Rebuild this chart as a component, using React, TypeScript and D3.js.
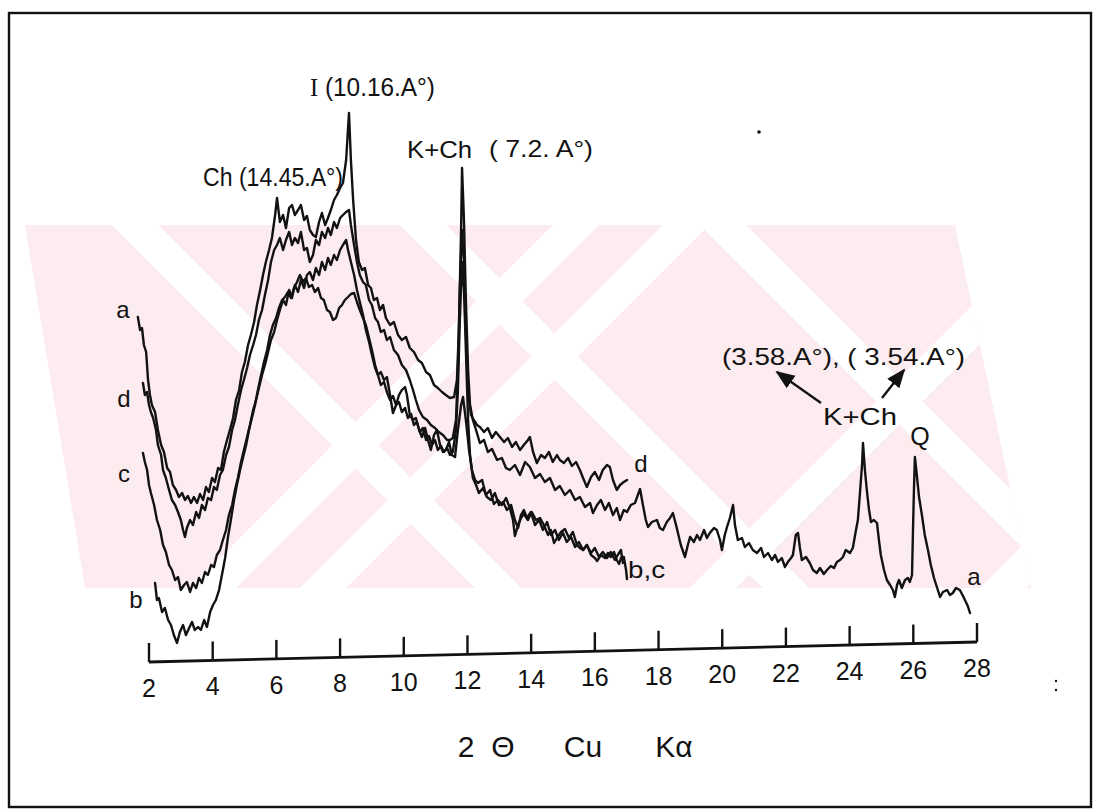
import React from "react";
import * as d3 from "d3";

type Pt = [number, number];

// 2θ tick values of the x axis
const xTicks: number[] = [2, 4, 6, 8, 10, 12, 14, 16, 18, 20, 22, 24, 26, 28];

// Curve a (untreated) : [2θ, intensity]
const curveA: Pt[] = [
  [1.65, 345], [1.72, 332], [1.78, 334], [1.84, 317], [1.91, 310], [1.97, 282], [2.03, 267], [2.09, 257],
  [2.19, 250], [2.28, 232], [2.38, 217], [2.47, 210], [2.57, 194], [2.66, 190], [2.75, 177], [2.85, 172],
  [2.94, 165], [3.04, 169], [3.13, 162], [3.22, 166], [3.32, 159], [3.41, 165], [3.51, 159], [3.6, 168],
  [3.7, 162], [3.79, 175], [3.88, 170], [3.98, 184], [4.07, 180], [4.17, 194], [4.26, 192], [4.35, 210],
  [4.45, 222], [4.54, 232], [4.64, 244], [4.73, 262], [4.83, 272], [4.92, 290], [5.01, 300], [5.11, 317],
  [5.2, 327], [5.3, 340], [5.39, 357], [5.49, 372], [5.58, 387], [5.67, 400], [5.77, 412], [5.86, 424],
  [5.96, 447], [6.02, 464], [6.11, 440], [6.21, 447], [6.3, 434], [6.4, 454], [6.49, 457], [6.58, 447],
  [6.68, 452], [6.77, 457], [6.87, 442], [6.96, 446], [7.05, 432], [7.15, 427], [7.24, 425], [7.34, 440],
  [7.43, 449], [7.53, 437], [7.62, 444], [7.71, 452], [7.81, 462], [7.9, 467], [8.0, 474], [8.09, 479],
  [8.19, 502], [8.28, 549], [8.34, 502], [8.41, 462], [8.5, 422], [8.59, 400], [8.69, 392], [8.78, 394],
  [8.88, 377], [8.97, 374], [9.06, 362], [9.16, 364], [9.25, 352], [9.35, 357], [9.44, 344], [9.57, 337],
  [9.69, 340], [9.82, 327], [9.94, 322], [10.07, 325], [10.19, 314], [10.32, 310], [10.45, 302], [10.57, 299],
  [10.7, 290], [10.82, 287], [10.95, 277], [11.07, 274], [11.2, 270], [11.32, 267], [11.45, 264], [11.58, 265],
  [11.67, 282], [11.73, 332], [11.8, 432], [11.83, 494], [11.89, 442], [11.95, 362], [12.02, 292], [12.08, 257],
  [12.17, 242], [12.27, 232], [12.39, 219], [12.52, 222], [12.64, 210], [12.77, 213], [12.93, 202], [13.08, 204],
  [13.21, 194], [13.33, 192], [13.49, 197], [13.65, 187], [13.81, 200], [13.96, 195], [14.12, 184], [14.28, 188],
  [14.43, 180], [14.59, 184], [14.75, 172], [14.9, 176], [15.06, 167], [15.22, 172], [15.38, 162], [15.53, 165],
  [15.69, 155], [15.85, 159], [15.94, 149], [16.07, 157], [16.19, 162], [16.32, 152], [16.44, 159], [16.57, 147],
  [16.69, 154], [16.79, 142], [16.91, 152], [17.01, 150], [17.13, 157], [17.26, 159], [17.35, 167], [17.42, 173],
  [17.51, 157], [17.6, 142], [17.67, 135], [17.79, 140], [17.95, 142], [18.04, 134], [18.14, 132], [18.26, 140],
  [18.36, 144], [18.45, 149], [18.55, 137], [18.61, 129], [18.7, 117], [18.83, 105], [18.92, 117], [18.99, 125],
  [19.11, 120], [19.21, 127], [19.3, 122], [19.43, 132], [19.52, 124], [19.61, 129], [19.74, 134], [19.83, 132],
  [19.93, 122], [19.99, 112], [20.08, 127], [20.15, 135], [20.24, 144], [20.34, 157], [20.4, 137], [20.49, 122],
  [20.62, 124], [20.71, 115], [20.84, 119], [20.96, 112], [21.09, 109], [21.22, 114], [21.31, 105], [21.44, 109],
  [21.56, 102], [21.66, 107], [21.75, 100], [21.87, 104], [21.97, 95], [22.06, 100], [22.16, 104], [22.22, 107],
  [22.31, 127], [22.38, 129], [22.44, 114], [22.5, 102], [22.63, 105], [22.75, 99], [22.85, 92], [22.97, 89],
  [23.07, 94], [23.19, 88], [23.29, 92], [23.41, 96], [23.51, 94], [23.6, 100], [23.7, 102], [23.79, 105],
  [23.88, 112], [24.01, 109], [24.1, 114], [24.2, 132], [24.26, 142], [24.32, 167], [24.39, 197], [24.42, 219],
  [24.48, 192], [24.54, 172], [24.61, 152], [24.67, 140], [24.76, 142], [24.86, 139], [24.92, 122], [24.98, 107],
  [25.08, 92], [25.17, 82], [25.27, 77], [25.36, 72], [25.42, 65], [25.49, 77], [25.55, 82], [25.64, 74],
  [25.74, 82], [25.83, 84], [25.89, 80], [25.96, 87], [25.99, 132], [26.02, 172], [26.05, 205], [26.11, 187],
  [26.18, 165], [26.27, 147], [26.36, 127], [26.46, 112], [26.55, 97], [26.65, 84], [26.74, 75], [26.84, 65],
  [26.93, 70], [27.06, 72], [27.15, 67], [27.24, 69], [27.34, 74], [27.46, 72], [27.56, 66], [27.62, 62],
  [27.71, 56], [27.78, 49],
];

// Curve b
const curveB: Pt[] = [
  [2.19, 79], [2.25, 62], [2.31, 64], [2.41, 50], [2.5, 54], [2.6, 42], [2.69, 37], [2.78, 27],
  [2.88, 19], [2.97, 30], [3.07, 37], [3.16, 27], [3.26, 34], [3.35, 40], [3.44, 32], [3.54, 35],
  [3.63, 32], [3.73, 42], [3.82, 35], [3.92, 50], [4.01, 57], [4.1, 62], [4.2, 72], [4.29, 87],
  [4.39, 104], [4.48, 125], [4.57, 142], [4.67, 162], [4.76, 177], [4.86, 192], [4.95, 204], [5.05, 217],
  [5.14, 232], [5.23, 244], [5.33, 257], [5.42, 272], [5.52, 287], [5.61, 300], [5.71, 312], [5.8, 327],
  [5.89, 337], [5.99, 344], [6.08, 354], [6.18, 362], [6.27, 365], [6.36, 370], [6.46, 364], [6.55, 374],
  [6.65, 380], [6.74, 387], [6.84, 380], [6.93, 384], [7.02, 375], [7.12, 377], [7.21, 370], [7.31, 374],
  [7.4, 364], [7.49, 362], [7.59, 352], [7.68, 350], [7.78, 342], [7.87, 344], [7.97, 354], [8.06, 357],
  [8.15, 362], [8.25, 365], [8.34, 368], [8.44, 369], [8.53, 360], [8.62, 352], [8.72, 344], [8.81, 337],
  [8.91, 324], [9.0, 312], [9.1, 297], [9.19, 287], [9.28, 290], [9.38, 282], [9.47, 285], [9.57, 267],
  [9.66, 249], [9.76, 257], [9.85, 267], [9.94, 272], [10.04, 275], [10.1, 267], [10.19, 247], [10.29, 242],
  [10.38, 244], [10.48, 232], [10.57, 225], [10.67, 234], [10.76, 222], [10.85, 212], [10.95, 227], [11.04, 232],
  [11.14, 217], [11.23, 210], [11.32, 212], [11.42, 220], [11.51, 207], [11.61, 205], [11.7, 232], [11.8, 257],
  [11.86, 265], [11.95, 242], [12.05, 212], [12.14, 192], [12.24, 182], [12.33, 179], [12.46, 182], [12.58, 167],
  [12.71, 172], [12.83, 158], [12.96, 162], [13.08, 157], [13.21, 164], [13.33, 154], [13.43, 142], [13.49, 126],
  [13.59, 137], [13.68, 144], [13.77, 148], [13.9, 142], [14.02, 150], [14.15, 142], [14.28, 144], [14.4, 137],
  [14.53, 127], [14.62, 132], [14.72, 119], [14.81, 124], [14.94, 130], [15.06, 133], [15.19, 124], [15.31, 130],
  [15.44, 117], [15.53, 114], [15.63, 112], [15.75, 117], [15.88, 107], [16.0, 104], [16.07, 101], [16.19, 107],
  [16.32, 104], [16.41, 109], [16.5, 105], [16.6, 110], [16.69, 102], [16.76, 98], [16.82, 104], [16.91, 105],
  [16.98, 92], [17.01, 83],
];

// Curve c
const curveC: Pt[] = [
  [1.81, 209], [1.87, 200], [1.94, 192], [2.0, 177], [2.06, 169], [2.16, 157], [2.25, 142], [2.35, 132],
  [2.44, 117], [2.53, 110], [2.63, 97], [2.72, 92], [2.82, 82], [2.91, 85], [3.0, 72], [3.1, 77],
  [3.19, 80], [3.29, 70], [3.38, 79], [3.48, 74], [3.57, 84], [3.66, 79], [3.76, 90], [3.85, 87],
  [3.95, 97], [4.04, 95], [4.13, 107], [4.23, 112], [4.32, 122], [4.42, 132], [4.51, 147], [4.61, 157],
  [4.7, 172], [4.79, 184], [4.89, 200], [4.98, 212], [5.08, 225], [5.17, 237], [5.27, 252], [5.36, 262],
  [5.45, 274], [5.55, 287], [5.64, 297], [5.74, 310], [5.83, 322], [5.93, 330], [6.02, 342], [6.11, 352],
  [6.21, 362], [6.3, 357], [6.4, 372], [6.49, 364], [6.58, 377], [6.68, 370], [6.77, 382], [6.87, 374],
  [6.96, 387], [7.05, 390], [7.15, 382], [7.24, 394], [7.34, 387], [7.43, 400], [7.53, 392], [7.62, 404],
  [7.71, 397], [7.81, 407], [7.9, 402], [8.0, 412], [8.09, 417], [8.19, 422], [8.25, 412], [8.34, 400],
  [8.44, 387], [8.53, 372], [8.62, 360], [8.72, 347], [8.81, 332], [8.91, 320], [9.0, 307], [9.1, 294],
  [9.19, 287], [9.28, 277], [9.38, 280], [9.47, 270], [9.57, 262], [9.66, 266], [9.76, 257], [9.85, 260],
  [9.94, 250], [10.04, 254], [10.13, 244], [10.23, 248], [10.32, 237], [10.41, 240], [10.51, 230], [10.6, 234],
  [10.7, 222], [10.79, 226], [10.89, 217], [10.98, 222], [11.07, 212], [11.17, 216], [11.26, 210], [11.36, 214],
  [11.45, 207], [11.54, 210], [11.64, 232], [11.7, 272], [11.76, 342], [11.83, 400], [11.89, 372], [11.95, 312],
  [12.02, 242], [12.08, 207], [12.17, 184], [12.27, 177], [12.36, 169], [12.49, 174], [12.61, 165], [12.74, 162],
  [12.86, 169], [12.99, 157], [13.12, 160], [13.24, 152], [13.37, 157], [13.49, 142], [13.59, 134], [13.68, 147],
  [13.77, 152], [13.87, 144], [13.99, 150], [14.12, 137], [14.25, 142], [14.37, 132], [14.5, 140], [14.62, 127],
  [14.75, 132], [14.87, 122], [15.0, 129], [15.12, 120], [15.25, 125], [15.38, 115], [15.5, 120], [15.63, 112],
  [15.75, 117], [15.88, 109], [16.0, 114], [16.13, 105], [16.25, 110], [16.38, 104], [16.5, 110], [16.63, 102],
  [16.72, 107], [16.82, 112], [16.88, 99],
];

// Curve d
const curveD: Pt[] = [
  [1.81, 279], [1.87, 267], [1.94, 270], [2.0, 257], [2.06, 250], [2.13, 244], [2.22, 232], [2.28, 217],
  [2.38, 207], [2.44, 192], [2.53, 184], [2.63, 172], [2.72, 162], [2.82, 157], [2.91, 150], [3.0, 142],
  [3.07, 132], [3.13, 125], [3.19, 134], [3.29, 142], [3.38, 137], [3.48, 150], [3.57, 144], [3.66, 157],
  [3.76, 152], [3.85, 164], [3.95, 162], [4.04, 175], [4.13, 172], [4.23, 187], [4.32, 192], [4.42, 207],
  [4.51, 215], [4.61, 232], [4.7, 242], [4.79, 257], [4.89, 272], [4.98, 282], [5.08, 294], [5.17, 307],
  [5.27, 317], [5.36, 327], [5.45, 342], [5.55, 352], [5.64, 367], [5.74, 382], [5.83, 400], [5.93, 412],
  [6.02, 417], [6.11, 424], [6.21, 412], [6.3, 422], [6.4, 430], [6.49, 417], [6.58, 424], [6.68, 419],
  [6.77, 430], [6.87, 412], [6.96, 414], [7.05, 400], [7.15, 407], [7.24, 422], [7.34, 417], [7.43, 430],
  [7.53, 424], [7.62, 434], [7.71, 427], [7.81, 440], [7.9, 434], [8.0, 444], [8.09, 447], [8.19, 450],
  [8.28, 452], [8.34, 437], [8.44, 417], [8.53, 400], [8.62, 387], [8.72, 380], [8.81, 377], [8.91, 362],
  [9.0, 357], [9.1, 344], [9.19, 340], [9.28, 330], [9.38, 332], [9.47, 322], [9.57, 325], [9.69, 312],
  [9.82, 307], [9.94, 297], [10.07, 292], [10.19, 282], [10.29, 272], [10.38, 262], [10.48, 252], [10.6, 245],
  [10.73, 242], [10.85, 237], [10.98, 234], [11.1, 230], [11.23, 227], [11.36, 222], [11.45, 222], [11.54, 224],
  [11.64, 242], [11.7, 292], [11.76, 372], [11.83, 432], [11.89, 402], [11.95, 332], [12.02, 272], [12.11, 247],
  [12.2, 242], [12.3, 237], [12.39, 235], [12.52, 230], [12.64, 234], [12.77, 224], [12.89, 230], [13.02, 225],
  [13.15, 220], [13.27, 224], [13.4, 215], [13.52, 220], [13.65, 212], [13.77, 217], [13.9, 222], [13.96, 225],
  [14.06, 210], [14.18, 199], [14.31, 207], [14.43, 204], [14.56, 210], [14.68, 200], [14.81, 207], [14.9, 202],
  [15.03, 199], [15.16, 204], [15.28, 196], [15.41, 200], [15.53, 192], [15.63, 184], [15.75, 175], [15.88, 185],
  [16.0, 190], [16.13, 182], [16.25, 192], [16.38, 197], [16.47, 195], [16.57, 182], [16.69, 172], [16.79, 177],
  [16.91, 180], [17.01, 182],
];

// faint background watermark stripes (x where each stripe meets the band top / bottom)
const wmBackslash: number[] = [112, 400, 700];
const wmSlash: number[] = [190, 300, 690, 980];

const AXIS_TILT = 20 / 828;
const INK = "#121212";
const SANS = "'Liberation Sans', Arial, sans-serif";

export default function App() {
  const x = d3.scaleLinear().domain([2, 28]).range([149, 977]);
  const y = d3.scaleLinear().domain([0, 560]).range([662, 102]);
  const line = d3
    .line<Pt>()
    .x((d) => x(d[0]))
    .y((d) => y(d[1]))
    .curve(d3.curveLinear);
  const base = (px: number) => y(0) - (px - x(2)) * AXIS_TILT;

  const x0 = x(2);
  const x1 = x(28);

  const wTop = 225;
  const wBot = 588;
  const bandH = wBot - wTop;
  const sw = 46;

  const curves = [curveA, curveB, curveC, curveD];

  return (
    <svg
      width={1100}
      height={812}
      viewBox="0 0 1100 812"
      style={{ position: "absolute", left: 0, top: 0, background: "#fff" }}
    >
      <defs>
        <clipPath id="wm">
          <polygon points={`25,${wTop} 955,${wTop} 1031,${wBot} 85,${wBot}`} />
        </clipPath>
        <marker id="arr" viewBox="0 0 10 10" refX="9" refY="5" markerWidth="8" markerHeight="8" orient="auto">
          <path d="M0,1 L10,5 L0,9 z" fill={INK} />
        </marker>
      </defs>
      <rect x={0} y={0} width={1100} height={812} fill="#fff" />

      {/* watermark */}
      <g clipPath="url(#wm)">
        <rect x={0} y={wTop} width={1100} height={bandH} fill="#fdecef" />
        {wmBackslash.map((t, i) => (
          <polygon
            key={"b" + i}
            points={`${t},${wTop} ${t + sw},${wTop} ${t + sw + bandH},${wBot} ${t + bandH},${wBot}`}
            fill="#fff"
          />
        ))}
        {wmSlash.map((t, i) => (
          <polygon
            key={"s" + i}
            points={`${t},${wBot} ${t + sw},${wBot} ${t + sw + bandH},${wTop} ${t + bandH},${wTop}`}
            fill="#fff"
          />
        ))}
      </g>

      {/* frame */}
      <rect x={9} y={13} width={1082} height={794} fill="none" stroke={INK} strokeWidth={2.4} />

      {/* curves */}
      {curves.map((c, i) => (
        <path
          key={i}
          d={line(c) || ""}
          fill="none"
          stroke={INK}
          strokeWidth={2.4}
          strokeLinejoin="round"
          strokeLinecap="round"
        />
      ))}

      {/* axis */}
      <line x1={x0} y1={base(x0)} x2={x1} y2={base(x1)} stroke={INK} strokeWidth={2.8} />
      {xTicks.map((t) => {
        const px = x(t);
        const b = base(px);
        return (
          <g key={t}>
            <line x1={px} y1={b} x2={px} y2={b - 19} stroke={INK} strokeWidth={2.4} />
            <text x={px} y={b + 35} fontFamily={SANS} fontSize={25} textAnchor="middle" fill={INK}>
              {t}
            </text>
          </g>
        );
      })}

      {/* axis title */}
      <g fontFamily={SANS} fontSize={30} fill={INK} textAnchor="middle">
        <text x={466} y={757}>2</text>
        <text x={503} y={757}>Θ</text>
        <text x={583} y={757}>Cu</text>
        <text x={674} y={757}>Kα</text>
      </g>

      {/* annotations */}
      <g fontFamily={SANS} fill={INK}>
        <text x={310} y={96} fontSize={25} textLength={125} lengthAdjust="spacingAndGlyphs">
          <tspan fontFamily="'Liberation Serif', serif">I</tspan> (10.16.A°)
        </text>
        <text x={203} y={186} fontSize={25} textLength={140} lengthAdjust="spacingAndGlyphs">
          Ch (14.45.A°)
        </text>
        <text x={407} y={158} fontSize={24} textLength={65} lengthAdjust="spacingAndGlyphs">
          K+Ch
        </text>
        <text x={489} y={157} fontSize={24} textLength={104} lengthAdjust="spacingAndGlyphs">
          ( 7.2. A°)
        </text>
        <text x={722} y={365} fontSize={24} textLength={243} lengthAdjust="spacingAndGlyphs">
          (3.58.A°), ( 3.54.A°)
        </text>
        <text x={823} y={425} fontSize={24} textLength={74} lengthAdjust="spacingAndGlyphs">
          K+Ch
        </text>
        <text x={920} y={445} fontSize={25} textAnchor="middle">Q</text>
        <text x={974} y={585} fontSize={24} textAnchor="middle">a</text>
        <text x={628} y={578} fontSize={24} textLength={37} lengthAdjust="spacingAndGlyphs">b,c</text>
        <text x={641} y={472} fontSize={24} textAnchor="middle">d</text>
        <text x={123} y={318} fontSize={24} textAnchor="middle">a</text>
        <text x={124} y={407} fontSize={24} textAnchor="middle">d</text>
        <text x={124} y={482} fontSize={24} textAnchor="middle">c</text>
        <text x={136} y={608} fontSize={24} textAnchor="middle">b</text>
      </g>

      {/* arrows */}
      <line x1={821} y1={403} x2={777} y2={372} stroke={INK} strokeWidth={2.4} markerEnd="url(#arr)" />
      <line x1={882} y1={398} x2={904} y2={370} stroke={INK} strokeWidth={2.4} markerEnd="url(#arr)" />

      {/* specks */}
      <circle cx={759} cy={132} r={1.8} fill={INK} />
      <circle cx={1056} cy={681} r={1.2} fill={INK} />
      <circle cx={1056} cy={690} r={1.2} fill={INK} />
    </svg>
  );
}
